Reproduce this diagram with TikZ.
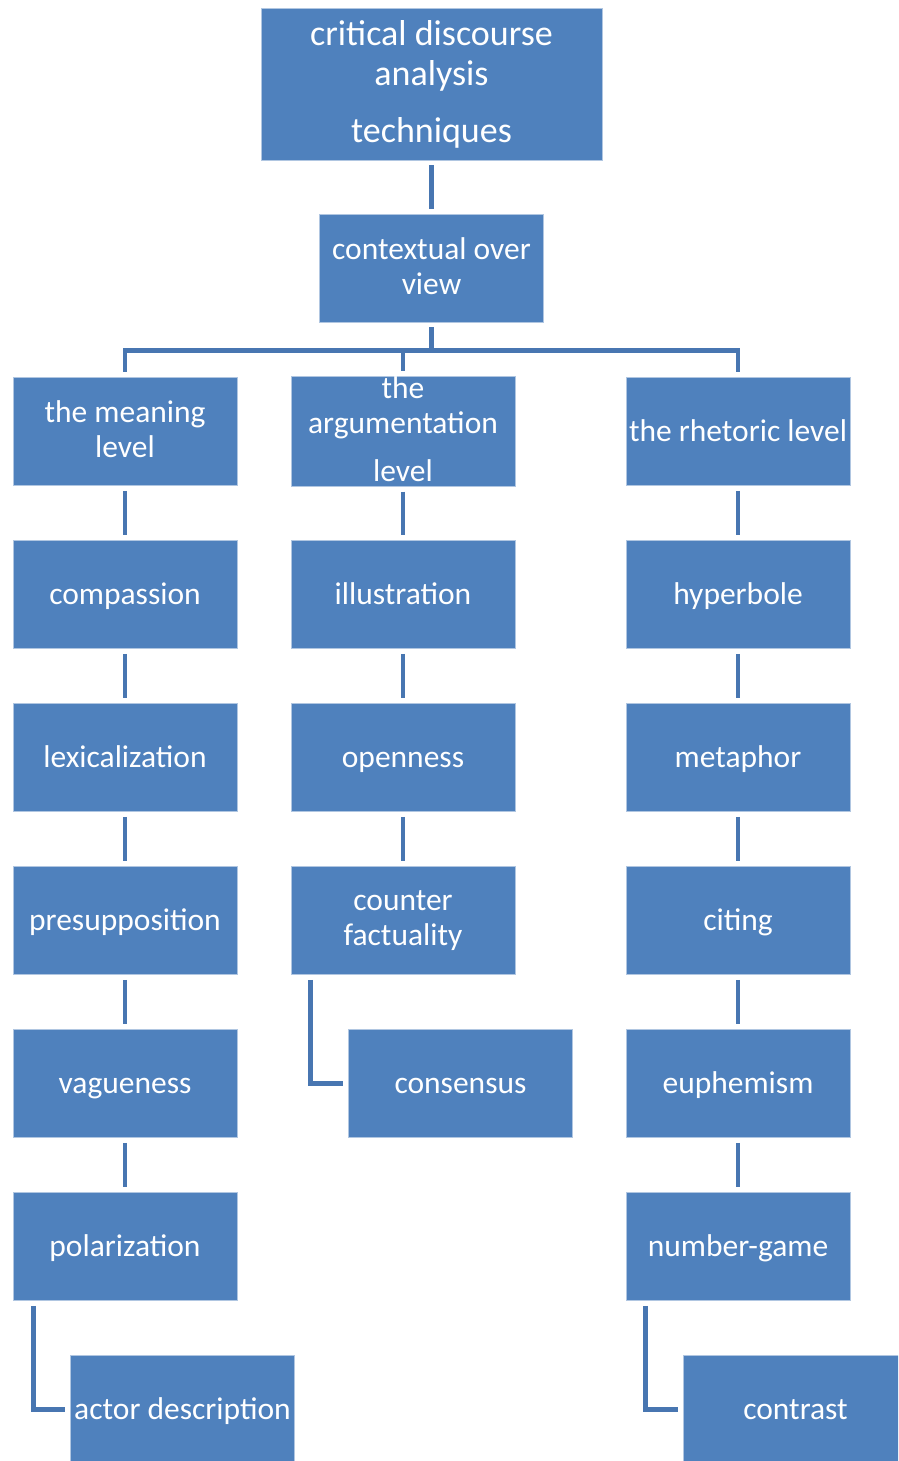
\documentclass[tikz,border=0pt]{standalone}
\usepackage{fontspec}
\setmainfont{Carlito}
\definecolor{boxblue}{HTML}{4F81BD}
\definecolor{lineblue}{HTML}{4876B1}
\newcommand{\boxstrut}{\rule[-4.5pt]{0pt}{29pt}}

\begin{document}
\begin{tikzpicture}[
  x=1pt, y=1pt,
  box/.style={rectangle, fill=boxblue, draw=white!55!boxblue, line width=0.8pt, text=white, minimum width=224pt, minimum height=108pt, inner sep=0pt, align=center, font=\fontsize{31.5}{35}\selectfont, execute at begin node=\boxstrut, execute at end node=\boxstrut},
  nostrut/.style={execute at begin node={}, execute at end node={}},
  link/.style={draw=lineblue, line width=4.5pt, shorten <=5pt, shorten >=5pt},
  node distance=163pt
]
\clip (0,0) rectangle (898,-1461);

\node[box, nostrut, minimum width=341pt, minimum height=152pt, font=\fontsize{36}{40}\selectfont] (cda) at (431.5,-84) {critical discourse\\analysis\\[17pt]techniques};
\node[box, below of=cda, node distance=184pt] (ctx) {contextual over\\view};

% the three levels
\node[box] (meaning) at (125,-431.5) {the meaning\\level};
\node[box, nostrut] (argument) at (403,-431.5) {the\\argumentation\\[13pt]level};
\node[box] (rhetoric) at (738,-431.5) {the rhetoric level};

\node[box, below of=meaning] (compassion) {compassion};
\node[box, below of=compassion] (lexical) {lexicalization};
\node[box, below of=lexical] (presup) {presupposition};
\node[box, below of=presup] (vague) {vagueness};
\node[box, below of=vague] (polar) {polarization};
\node[box, below of=polar, xshift=57.5pt] (actor) {actor description};

\node[box, below of=argument] (illustr) {illustration};
\node[box, below of=illustr] (open) {openness};
\node[box, below of=open] (counter) {counter\\factuality};
\node[box, below of=counter, xshift=57.5pt] (consensus) {consensus};

\node[box, below of=rhetoric] (hyper) {hyperbole};
\node[box, below of=hyper] (metaphor) {metaphor};
\node[box, below of=metaphor] (citing) {citing};
\node[box, below of=citing] (euphem) {euphemism};
\node[box, below of=euphem] (numgame) {number-game};
\node[box, below of=numgame, xshift=57.5pt] (contrast) {contrast};

\draw[link] (cda) -- (ctx);
\draw[link] (ctx.south) -- ++(0,-28) -| (meaning.north);
\draw[link] (ctx.south) -- ++(0,-28) -| (argument.north);
\draw[link] (ctx.south) -- ++(0,-28) -| (rhetoric.north);

\draw[link] (meaning) -- (compassion);
\draw[link] (compassion) -- (lexical);
\draw[link] (lexical) -- (presup);
\draw[link] (presup) -- (vague);
\draw[link] (vague) -- (polar);
\draw[link] ([xshift=21pt]polar.south west) |- (actor.west);

\draw[link] (argument) -- (illustr);
\draw[link] (illustr) -- (open);
\draw[link] (open) -- (counter);
\draw[link] ([xshift=20pt]counter.south west) |- (consensus.west);

\draw[link] (rhetoric) -- (hyper);
\draw[link] (hyper) -- (metaphor);
\draw[link] (metaphor) -- (citing);
\draw[link] (citing) -- (euphem);
\draw[link] (euphem) -- (numgame);
\draw[link] ([xshift=20pt]numgame.south west) |- (contrast.west);
\end{tikzpicture}
\end{document}
